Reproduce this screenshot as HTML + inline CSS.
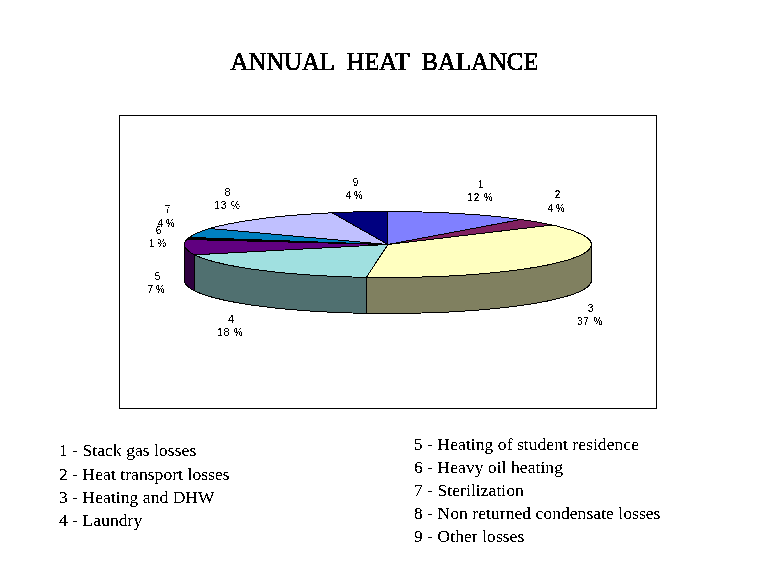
<!DOCTYPE html>
<html><head><meta charset="utf-8"><title>Annual Heat Balance</title>
<style>
html,body{margin:0;padding:0;background:#fff;}
body{width:768px;height:576px;overflow:hidden;position:relative;}
svg{position:absolute;left:0;top:0;display:block;}
.title{font-family:"Liberation Serif",serif;font-size:24.75px;fill:#000;white-space:pre;stroke:#000;stroke-width:0.55px;}
.lab text{font-family:"Liberation Sans",sans-serif;font-size:10px;fill:#000;text-anchor:middle;}
.leg text{font-family:"Liberation Serif",serif;font-size:17.5px;fill:#000;letter-spacing:0.06px;}
.pie polygon{stroke:#000;stroke-width:1;stroke-linejoin:round;}
</style></head>
<body>
<svg width="768" height="576" viewBox="0 0 768 576">
<defs><filter id="crisp" x="0" y="0" width="768" height="576" filterUnits="userSpaceOnUse" color-interpolation-filters="sRGB"><feComponentTransfer><feFuncA type="discrete" tableValues="0 0 0 0 1 1 1 1 1"/></feComponentTransfer></filter></defs>
<rect x="0" y="0" width="768" height="576" fill="#fff"/>
<rect x="119.5" y="115.5" width="537" height="293" fill="#fff" stroke="#000" stroke-width="1" shape-rendering="crispEdges"/>
<g class="pie" shape-rendering="crispEdges">
<polygon points="591.4,244.5 591.3,245.6 590.9,246.8 590.3,247.9 589.5,249.0 588.4,250.1 587.1,251.2 585.6,252.3 583.8,253.4 581.8,254.5 579.6,255.6 577.2,256.6 574.5,257.7 571.6,258.7 568.5,259.7 565.2,260.7 561.7,261.7 557.9,262.6 554.0,263.6 549.9,264.5 545.6,265.4 541.1,266.2 536.4,267.1 531.6,267.9 526.5,268.7 521.4,269.4 516.0,270.1 510.5,270.8 504.9,271.5 499.2,272.1 493.3,272.7 487.2,273.3 481.1,273.8 474.9,274.3 468.5,274.8 462.1,275.2 455.6,275.6 448.9,276.0 442.3,276.3 435.5,276.6 428.7,276.8 421.9,277.0 415.0,277.2 408.1,277.3 401.1,277.4 394.2,277.5 387.2,277.5 380.3,277.5 373.3,277.4 366.4,277.3 366.4,313.3 373.3,313.4 380.3,313.5 387.2,313.5 394.2,313.5 401.1,313.4 408.1,313.3 415.0,313.2 421.9,313.0 428.7,312.8 435.5,312.6 442.3,312.3 448.9,312.0 455.6,311.6 462.1,311.2 468.5,310.8 474.9,310.3 481.1,309.8 487.2,309.3 493.3,308.7 499.2,308.1 504.9,307.5 510.5,306.8 516.0,306.1 521.4,305.4 526.5,304.7 531.6,303.9 536.4,303.1 541.1,302.2 545.6,301.4 549.9,300.5 554.0,299.6 557.9,298.6 561.7,297.7 565.2,296.7 568.5,295.7 571.6,294.7 574.5,293.7 577.2,292.6 579.6,291.6 581.8,290.5 583.8,289.4 585.6,288.3 587.1,287.2 588.4,286.1 589.5,285.0 590.3,283.9 590.9,282.8 591.3,281.6 591.4,280.5" fill="#808060"/>
<polygon points="366.4,277.3 359.4,277.2 352.4,277.0 345.4,276.8 338.5,276.5 331.7,276.2 324.9,275.9 318.3,275.5 311.7,275.1 305.1,274.6 298.7,274.2 292.4,273.6 286.2,273.1 280.2,272.5 274.2,271.9 268.4,271.2 262.8,270.5 257.3,269.8 251.9,269.1 246.8,268.3 241.7,267.5 236.9,266.6 232.3,265.8 227.8,264.9 223.5,264.0 219.5,263.0 215.6,262.1 211.9,261.1 208.5,260.1 205.3,259.1 202.2,258.0 199.5,257.0 196.9,255.9 194.6,254.8 194.6,290.8 196.9,291.9 199.5,293.0 202.2,294.0 205.3,295.1 208.5,296.1 211.9,297.1 215.6,298.1 219.5,299.0 223.5,300.0 227.8,300.9 232.3,301.8 236.9,302.6 241.7,303.5 246.8,304.3 251.9,305.1 257.3,305.8 262.8,306.5 268.4,307.2 274.2,307.9 280.2,308.5 286.2,309.1 292.4,309.6 298.7,310.2 305.1,310.6 311.7,311.1 318.3,311.5 324.9,311.9 331.7,312.2 338.5,312.5 345.4,312.8 352.4,313.0 359.4,313.2 366.4,313.3" fill="#507070"/>
<polygon points="194.6,254.8 192.7,253.8 190.9,252.8 189.4,251.8 188.1,250.8 187.0,249.7 186.0,248.7 185.3,247.6 184.8,246.6 184.5,245.5 184.4,244.5 184.4,280.5 184.5,281.5 184.8,282.6 185.3,283.6 186.0,284.7 187.0,285.7 188.1,286.8 189.4,287.8 190.9,288.8 192.7,289.8 194.6,290.8" fill="#300040"/>
<polygon points="387.9,244.5 387.9,211.5 394.8,211.5 401.7,211.6 408.5,211.7 415.4,211.8 422.2,212.0 429.0,212.2 435.7,212.4 442.4,212.7 449.0,213.0 455.5,213.4 462.0,213.8 468.4,214.2 474.7,214.6 480.8,215.1 486.9,215.7 492.9,216.2 498.7,216.8 504.4,217.4 510.0,218.1 515.5,218.8 520.8,219.5" fill="#8080FF"/>
<polygon points="387.9,244.5 520.8,219.5 525.7,220.2 530.5,221.0 535.1,221.7 539.6,222.5 544.0,223.3 548.1,224.2 552.1,225.0" fill="#802060"/>
<polygon points="387.9,244.5 552.1,225.0 556.2,225.9 560.0,226.9 563.6,227.9 567.1,228.9 570.3,229.9 573.3,230.9 576.1,231.9 578.6,233.0 581.0,234.1 583.1,235.2 584.9,236.2 586.6,237.4 588.0,238.5 589.1,239.6 590.1,240.7 590.7,241.8 591.2,243.0 591.4,244.1 591.3,245.3 591.1,246.4 590.5,247.5 589.8,248.7 588.8,249.8 587.5,250.9 586.1,252.0 584.3,253.1 582.4,254.2 580.2,255.3 577.8,256.4 575.2,257.4 572.3,258.4 569.3,259.5 566.0,260.5 562.5,261.5 558.8,262.4 554.9,263.4 550.8,264.3 546.5,265.2 542.0,266.1 537.3,266.9 532.4,267.7 527.4,268.5 522.2,269.3 516.9,270.0 511.4,270.7 505.7,271.4 500.0,272.0 494.0,272.7 488.0,273.2 481.8,273.8 475.6,274.3 469.2,274.8 462.7,275.2 456.1,275.6 449.5,276.0 442.8,276.3 436.0,276.6 429.2,276.8 422.3,277.0 415.3,277.2 408.4,277.3 401.4,277.4 394.4,277.5 387.4,277.5 380.4,277.5 373.4,277.4 366.4,277.3" fill="#FFFFC0"/>
<polygon points="387.9,244.5 366.4,277.3 359.4,277.2 352.4,277.0 345.4,276.8 338.5,276.5 331.7,276.2 324.9,275.9 318.3,275.5 311.7,275.1 305.1,274.6 298.7,274.2 292.4,273.6 286.2,273.1 280.2,272.5 274.2,271.9 268.4,271.2 262.8,270.5 257.3,269.8 251.9,269.1 246.8,268.3 241.7,267.5 236.9,266.6 232.3,265.8 227.8,264.9 223.5,264.0 219.5,263.0 215.6,262.1 211.9,261.1 208.5,260.1 205.3,259.1 202.2,258.0 199.5,257.0 196.9,255.9 194.6,254.8" fill="#A0E0E0"/>
<polygon points="387.9,244.5 194.6,254.8 192.6,253.7 190.7,252.7 189.2,251.6 187.8,250.5 186.7,249.4 185.8,248.3 185.1,247.2 184.6,246.1 184.4,245.0 184.4,243.9 184.7,242.8 185.2,241.7 185.9,240.6 186.8,239.5" fill="#600080"/>
<polygon points="387.9,244.5 186.8,239.5 187.9,238.4 189.1,237.4" fill="#000000"/>
<polygon points="387.9,244.5 189.1,237.4 190.7,236.4 192.4,235.4 194.3,234.3 196.4,233.3 198.7,232.4 201.2,231.4 203.9,230.4 206.8,229.5 209.8,228.5" fill="#0080C0"/>
<polygon points="387.9,244.5 209.8,228.5 213.3,227.5 217.0,226.6 220.9,225.6 225.0,224.7 229.2,223.8 233.7,223.0 238.3,222.1 243.2,221.3 248.1,220.5 253.3,219.8 258.6,219.0 264.0,218.3 269.7,217.6 275.4,217.0 281.3,216.4 287.3,215.8 293.4,215.3 299.6,214.8 305.9,214.3 312.4,213.9 318.9,213.5 325.5,213.1 332.1,212.8" fill="#C0C0FF"/>
<polygon points="387.9,244.5 332.1,212.8 339.0,212.5 345.9,212.2 352.8,212.0 359.8,211.8 366.8,211.7 373.8,211.6 380.8,211.5 387.9,211.5" fill="#000080"/>
</g>
<g filter="url(#crisp)">
<text class="title" x="230.4" y="70">ANNUAL  HEAT  BALANCE</text>
<g class="lab">
<text x="480.5" y="188.0">1</text><text x="480.0" y="201.0" textLength="25.4">12 %</text>
<text x="557.5" y="198.0">2</text><text x="556.0" y="212.0">4 %</text>
<text x="590.5" y="312.0">3</text><text x="589.6" y="325.0" textLength="25.4">37 %</text>
<text x="231.0" y="323.0">4</text><text x="230.0" y="336.0" textLength="25.4">18 %</text>
<text x="157.5" y="280.0">5</text><text x="156.0" y="293.0">7 %</text>
<text x="167.6" y="213.0">7</text><text x="166.0" y="227.0">4 %</text>
<text x="158.5" y="234.0">6</text><text x="157.6" y="247.0">1 %</text>
<text x="227.6" y="196.0">8</text><text x="227.1" y="209.0" textLength="25.4">13 %</text>
<text x="355.5" y="186.0">9</text><text x="354.0" y="199.0">4 %</text>
</g>
<g class="leg">
<text x="59" y="455.9">1 - Stack gas losses</text>
<text x="59" y="479.7">2 - Heat transport losses</text>
<text x="59" y="502.9">3 - Heating and DHW</text>
<text x="59" y="525.8">4 - Laundry</text>
<text x="414" y="449.9">5 - Heating of student residence</text>
<text x="414" y="472.8">6 - Heavy oil heating</text>
<text x="414" y="495.8">7 - Sterilization</text>
<text x="414" y="518.6">8 - Non returned condensate losses</text>
<text x="414" y="541.5">9 - Other losses</text>
</g>
</g>
</svg>
</body></html>
